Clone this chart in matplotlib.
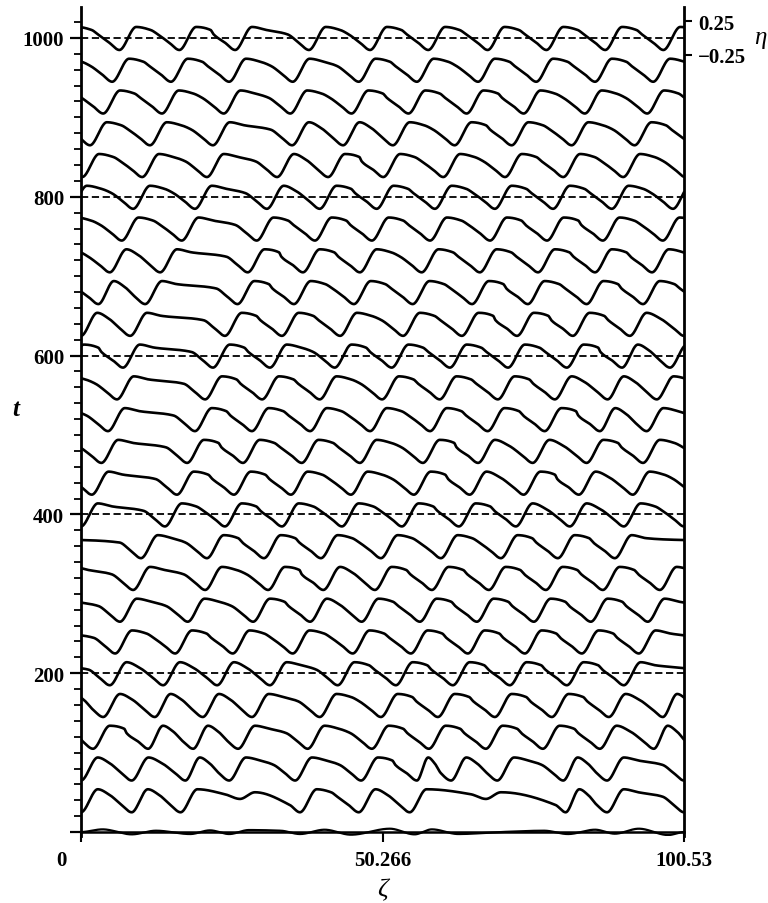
import numpy as np
import matplotlib.pyplot as plt
from matplotlib.ticker import MultipleLocator, FixedLocator
import matplotlib.transforms as mtransforms

# periodic domain length (32*pi) and vertical scale of eta in t-units
L = 100.53
S = 84.0

# trough positions (zeta) for each row t = 40 ... 1000
troughs_040 = [0.0, 8.45, 16.6, 36.5, 46.3, 54.8, 80.8, 87.7]
troughs_080 = [0.0, 8.45, 17.4, 24.7, 35.7, 46.7, 56.0, 61.7, 69.4, 80.4, 87.7]
troughs_120 = [2.0, 11.2, 18.7, 26.2, 37.8, 48.5, 58.0, 67.5, 77.0, 86.5, 95.5]
troughs_160 = [3.7, 12.3, 20.3, 28.5, 39.8, 50.0, 59.5, 69.0, 78.5, 88.0, 97.0]
troughs_200 = [4.8, 13.7, 22.7, 31.5, 42.8, 52.5, 62.0, 71.5, 81.0, 90.5]
troughs_240 = [5.7, 15.7, 25.3, 35.3, 45.3, 55.0, 64.5, 74.0, 83.5, 93.0]
troughs_280 = [6.5, 17.8, 28.7, 38.2, 46.8, 56.5, 66.0, 75.5, 85.0, 94.5]
troughs_320 = [8.7, 20.7, 31.2, 40.4, 49.0, 58.5, 68.0, 77.5, 87.0, 96.5]
troughs_360 = [10.0, 21.0, 30.5, 40.0, 50.0, 60.0, 70.0, 79.5, 89.0]
troughs_400 = [0.0, 14.0, 24.0, 33.5, 43.5, 53.5, 63.0, 72.5, 81.5, 90.5]
troughs_440 = [1.8, 16.0, 25.5, 35.0, 45.0, 55.5, 64.8, 73.8, 83.0, 92.0]
troughs_480 = [3.4, 17.7, 27.0, 36.8, 46.5, 57.0, 66.2, 75.3, 84.3, 93.7]
troughs_520 = [4.5, 19.0, 28.5, 38.2, 48.2, 58.2, 67.8, 77.3, 86.5, 94.3]
troughs_560 = [6.0, 20.7, 30.2, 39.8, 50.2, 59.8, 69.5, 79.0, 87.8, 96.0]
troughs_600 = [7.0, 22.0, 31.5, 42.3, 51.8, 61.5, 71.2, 81.0, 90.2, 98.2]
troughs_640 = [0.0, 8.2, 24.0, 33.5, 43.2, 53.7, 63.5, 72.7, 82.0, 91.5]
troughs_680 = [2.9, 10.7, 26.1, 35.5, 45.5, 55.3, 65.2, 74.5, 84.3, 93.7]
troughs_720 = [4.8, 13.2, 27.8, 37.0, 46.5, 56.8, 66.5, 76.2, 85.7, 95.2]
troughs_760 = [6.8, 16.8, 29.3, 39.0, 48.5, 58.2, 68.2, 77.7, 87.0, 97.0]
troughs_800 = [8.7, 19.0, 31.0, 39.8, 49.3, 59.0, 69.0, 78.7, 88.5, 98.7]
troughs_840 = [0.2, 10.2, 21.0, 32.7, 41.2, 50.4, 60.4, 70.7, 80.4, 90.4]
troughs_880 = [1.5, 11.5, 22.0, 35.2, 43.7, 52.0, 62.3, 71.8, 81.8, 92.3]
troughs_920 = [3.7, 13.5, 23.8, 34.9, 45.1, 54.6, 64.3, 73.8, 84.0, 94.4]
troughs_960 = [5.2, 15.0, 24.7, 35.3, 46.3, 56.0, 66.2, 75.9, 85.7, 95.4]
troughs_1000 = [6.4, 16.4, 25.7, 38.0, 48.2, 57.9, 67.8, 77.6, 87.4, 97.1]

# shallow dips (small bumps) on the early rows
shallow_040 = [26.5, 67.5]

row_t = [40, 80, 120, 160, 200, 240, 280, 320, 360, 400, 440, 480, 520,
         560, 600, 640, 680, 720, 760, 800, 840, 880, 920, 960, 1000]
row_troughs = [troughs_040, troughs_080, troughs_120, troughs_160, troughs_200,
               troughs_240, troughs_280, troughs_320, troughs_360, troughs_400,
               troughs_440, troughs_480, troughs_520, troughs_560, troughs_600,
               troughs_640, troughs_680, troughs_720, troughs_760, troughs_800,
               troughs_840, troughs_880, troughs_920, troughs_960, troughs_1000]
row_shallow = {40: shallow_040}

# the t = 0 profile: small ripples
zeta_t0 = [0, 3.6, 8.45, 12.5, 18.2, 21.5, 24.7, 28, 33.3, 36.5, 40.6, 45,
           51.5, 55.6, 58.5, 62.9, 70, 77.2, 81.2, 85.7, 89, 93, 97.9, 100.53]
eta_t0 = [0, 0.04, -0.035, 0.02, -0.03, 0.025, -0.03, 0.03, 0.02, -0.03, 0.035,
          -0.04, 0.05, -0.035, 0.04, -0.03, 0.0, 0.02, -0.03, 0.035, -0.025,
          0.05, -0.045, 0]

# pulse shape (eta) read from one wave of the top row
ETA_TROUGH, ETA_CREST, ETA_SHALLOW = -0.18, 0.165, 0.02
RISE = 2.8
BACK = [(2.4, 0.12), (-3.6, 0.055), (-1.7, -0.07)]  # after crest / before next trough


def pchip(xk, yk, x):
    xk = np.asarray(xk, float); yk = np.asarray(yk, float)
    h = np.diff(xk); d = np.diff(yk) / h
    m = np.zeros_like(yk)
    for k in range(1, len(xk) - 1):
        if d[k - 1] * d[k] > 0:
            w1 = 2 * h[k] + h[k - 1]; w2 = h[k] + 2 * h[k - 1]
            m[k] = (w1 + w2) / (w1 / d[k - 1] + w2 / d[k])
    i = np.clip(np.searchsorted(xk, x) - 1, 0, len(xk) - 2)
    s = (x - xk[i]) / h[i]
    h00 = 2 * s**3 - 3 * s**2 + 1; h10 = s**3 - 2 * s**2 + s
    h01 = -2 * s**3 + 3 * s**2; h11 = s**3 - s**2
    return h00 * yk[i] + h10 * h[i] * m[i] + h01 * yk[i + 1] + h11 * h[i] * m[i + 1]


def profile(troughs, x, shallow=()):
    tr = sorted(troughs)
    tr = [tr[-1] - L] + tr + [tr[0] + L]
    xk, yk = [], []
    for z0, z1 in zip(tr[:-1], tr[1:]):
        g = z1 - z0
        r = min(RISE, 0.33 * g)
        xk += [z0, z0 + r]; yk += [ETA_TROUGH, ETA_CREST]
        dips = [s for s in shallow if z0 + r + 2 < s < z1 - 4]
        if dips:
            s = dips[0]
            xk += [s - 2.5, s, s + 2.5, z1 - 1.7]
            yk += [0.09, ETA_SHALLOW, 0.12, -0.07]
            continue
        a = z0 + r + BACK[0][0]; b = z1 + BACK[1][0]; c = z1 + BACK[2][0]
        if a < b - 0.3:
            xk += [a, b, c]; yk += [BACK[0][1], BACK[1][1], BACK[2][1]]
        elif z0 + r < c - 0.3:
            xk += [0.5 * (z0 + r + c), c]; yk += [0.08, BACK[2][1]]
    xk.append(tr[-1]); yk.append(ETA_TROUGH)
    return pchip(xk, yk, x)


plt.rcParams['font.family'] = ['Liberation Serif', 'DejaVu Serif']

fig = plt.figure(figsize=(7.68, 9.04), dpi=100)
ax = fig.add_axes([81 / 768, 1 - 837 / 904, 603 / 768, 829 / 904])

z = np.linspace(0, L, 3000)
for t in range(200, 1001, 200):
    ax.axhline(t, color='black', lw=1.3, ls=(0, (4.0, 2.0)), zorder=1)

ax.plot(z, 0 + S * pchip(zeta_t0, eta_t0, z), color='black', lw=1.6, zorder=3)
for t, tr in zip(row_t, row_troughs):
    eta = profile(tr, z, row_shallow.get(t, ()))
    ax.plot(z, t + S * eta, color='black', lw=1.9, zorder=3,
            solid_capstyle='round')

ax.set_xlim(0, L)
ax.set_ylim(-5, 1039)

ax.spines['top'].set_visible(False)
for s in ('left', 'right'):
    ax.spines[s].set_linewidth(2.0)
ax.spines['bottom'].set_position(('data', 0))
ax.spines['bottom'].set_linewidth(1.8)

ax.set_xticks([0, 50.266, 100.53])
ax.set_xticklabels(['0', '50.266', '100.53'])
ax.yaxis.set_major_locator(FixedLocator([0, 200, 400, 600, 800, 1000]))
ax.set_yticklabels(['', '200', '400', '600', '800', '1000'])
ax.yaxis.set_minor_locator(MultipleLocator(20))
ax.tick_params(axis='y', which='major', direction='out', length=8, width=1.6,
               labelsize=15, pad=4)
ax.tick_params(axis='y', which='minor', direction='out', length=5, width=1.3)
ax.tick_params(axis='x', direction='out', length=7, width=1.5, labelsize=15, pad=6)
for lab in ax.get_xticklabels() + ax.get_yticklabels():
    lab.set_fontweight('bold')
lab0 = ax.get_xticklabels()[0]
lab0.set_transform(lab0.get_transform() + mtransforms.ScaledTranslation(-0.2, 0, fig.dpi_scale_trans))

# eta scale on the right
ax2 = ax.twinx()
ax2.set_ylim(ax.get_ylim())
ax2.set_yticks([1000 + 0.25 * S, 1000 - 0.25 * S])
ax2.set_yticklabels(['0.25', '\u22120.25'])
ax2.tick_params(axis='y', direction='out', length=6, width=1.5, labelsize=15, pad=4)
for lab in ax2.get_yticklabels():
    lab.set_fontweight('bold')
for s in ax2.spines.values():
    s.set_visible(False)

fig.text(760 / 768, 1 - 38 / 904, '\u03b7', fontsize=18, style='italic',
         ha='center', va='center')
fig.text(16 / 768, 1 - 410 / 904, 't', fontsize=18, style='italic',
         fontweight='bold', ha='center', va='center')
fig.text(382 / 768, 1 - 890 / 904, '\u03b6', fontsize=19, style='italic',
         ha='center', va='center')

fig.savefig('out.png', dpi=100)
